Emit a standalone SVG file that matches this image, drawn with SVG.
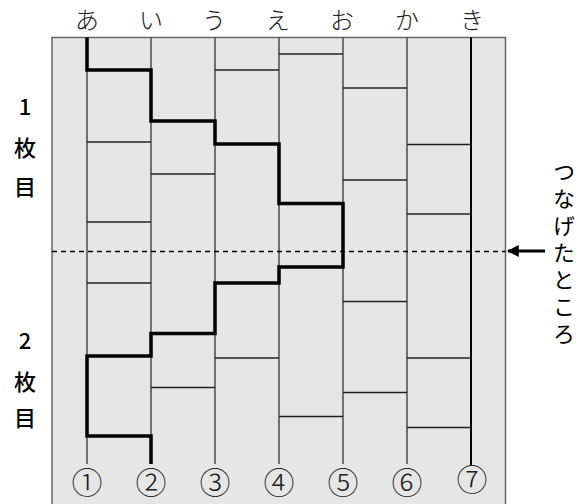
<svg xmlns="http://www.w3.org/2000/svg" width="586" height="504" viewBox="0 0 586 504">
<defs>
<style>
.top{font-family:"Noto Sans CJK JP",sans-serif;font-size:24px;font-weight:300;fill:#222;text-anchor:middle}
.lbl{font-family:"Noto Sans CJK JP",sans-serif;font-size:22px;font-weight:500;fill:#000;text-anchor:middle}
.num{font-family:"Noto Sans CJK JP",sans-serif;font-size:31px;font-weight:300;fill:#222;text-anchor:middle}
.v{stroke:#333;stroke-width:1.3;fill:none}
.r{stroke:#222;stroke-width:1.3;fill:none}
.path{stroke:#000;stroke-width:3.5;fill:none;stroke-linejoin:miter}
</style>
<marker id="ah" viewBox="0 0 10 10" refX="9" refY="5" markerWidth="4" markerHeight="4" orient="auto" markerUnits="strokeWidth">
<path d="M0,0 L10,5 L0,10 z" fill="#000"/>
</marker>
</defs>
<rect width="586" height="504" fill="#fff"/>
<g id="board">
<rect x="52" y="37.5" width="453.5" height="480" fill="#e6e6e6" stroke="#666" stroke-width="1.5"/>
</g>
<g id="top-labels">
<text class="top" x="87" y="29">あ</text>
<text class="top" x="151" y="29">い</text>
<text class="top" x="214" y="29">う</text>
<text class="top" x="278" y="29">え</text>
<text class="top" x="342" y="29">お</text>
<text class="top" x="407" y="29">か</text>
<text class="top" x="472" y="29">き</text>
</g>
<g id="side-labels">
<text class="lbl" x="25" y="115">1</text>
<text class="lbl" x="25" y="156">枚</text>
<text class="lbl" x="25" y="195">目</text>
<text class="lbl" x="25" y="349">2</text>
<text class="lbl" x="25" y="390">枚</text>
<text class="lbl" x="25" y="426">目</text>
</g>
<g id="connectors">
<g id="verticals">
<line class="v" x1="87" y1="37.5" x2="87" y2="464"/>
<line class="v" x1="151" y1="37.5" x2="151" y2="464"/>
<line class="v" x1="215" y1="37.5" x2="215" y2="464"/>
<line class="v" x1="279" y1="37.5" x2="279" y2="464"/>
<line class="v" x1="343" y1="37.5" x2="343" y2="464"/>
<line class="v" x1="407" y1="37.5" x2="407" y2="464"/>
<line x1="471" y1="37.5" x2="471" y2="465" stroke="#000" stroke-width="2"/>
</g>
<g id="rungs">
<line class="r" x1="87" y1="142" x2="151" y2="142"/>
<line class="r" x1="87" y1="222" x2="151" y2="222"/>
<line class="r" x1="87" y1="283" x2="151" y2="283"/>
<line class="r" x1="151" y1="174" x2="215" y2="174"/>
<line class="r" x1="151" y1="387.5" x2="215" y2="387.5"/>
<line class="r" x1="215" y1="70" x2="279" y2="70"/>
<line class="r" x1="215" y1="358" x2="279" y2="358"/>
<line class="r" x1="279" y1="54" x2="343" y2="54"/>
<line class="r" x1="279" y1="416.5" x2="343" y2="416.5"/>
<line class="r" x1="343" y1="88" x2="407" y2="88"/>
<line class="r" x1="343" y1="180" x2="407" y2="180"/>
<line class="r" x1="343" y1="301.5" x2="407" y2="301.5"/>
<line class="r" x1="343" y1="392.5" x2="407" y2="392.5"/>
<line class="r" x1="407" y1="144.5" x2="471" y2="144.5"/>
<line class="r" x1="407" y1="214" x2="471" y2="214"/>
<line class="r" x1="407" y1="358" x2="471" y2="358"/>
<line class="r" x1="407" y1="427.5" x2="471" y2="427.5"/>
</g>
<path id="route" class="path" d="M87,37.5 V70 H151 V121 H215 V144 H279 V203.5 H343 V267 H279 V283 H215 V333.5 H151 V356 H87 V436 H151 V464"/>
<line id="join" x1="52" y1="251.5" x2="505.5" y2="251.5" stroke="#000" stroke-width="1.3" stroke-dasharray="5,4"/>
<line id="arrow" x1="545" y1="251" x2="508" y2="251" stroke="#000" stroke-width="3" marker-end="url(#ah)"/>
</g>
<g id="numbers">
<text class="num" x="87" y="494">①</text>
<text class="num" x="151" y="494">②</text>
<text class="num" x="215" y="494">③</text>
<text class="num" x="279" y="494">④</text>
<text class="num" x="343" y="494">⑤</text>
<text class="num" x="407" y="494">⑥</text>
<text class="num" x="472" y="491">⑦</text>
</g>
<g id="join-label">
<text x="564" y="161" writing-mode="vertical-rl" font-family="Noto Sans CJK JP, sans-serif" font-size="22" letter-spacing="5" fill="#000">つなげたところ</text>
</g>
</svg>
